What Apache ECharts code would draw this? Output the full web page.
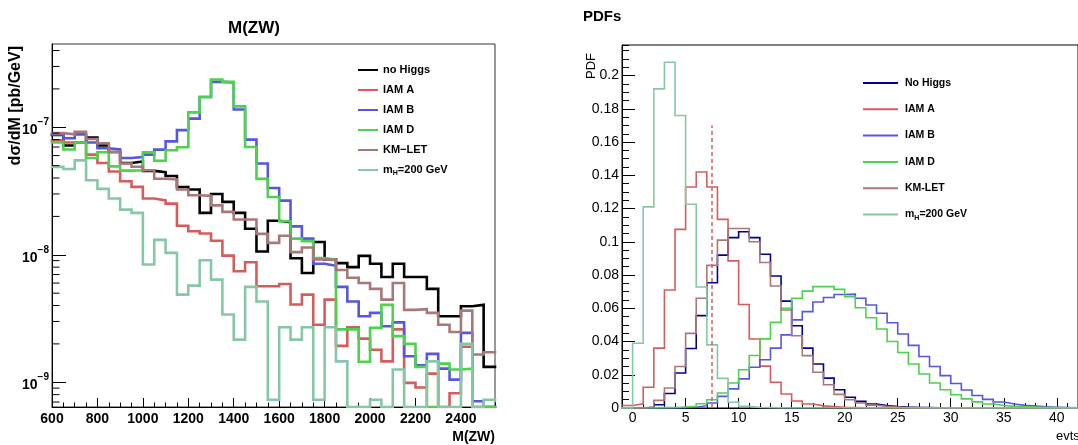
<!DOCTYPE html>
<html><head><meta charset="utf-8">
<script src="https://cdn.jsdelivr.net/npm/echarts@6/dist/echarts.min.js"></script>
<style>html,body{margin:0;padding:0;background:#fff;}#c{width:1078px;height:445px;}</style>
</head><body><div id="c"></div>
<script>
// ---------- Left panel: M(ZW), 50 GeV bins starting at 600 GeV ----------
const mzwEdgeStart = 600;
const mzwBinWidth = 50;
const mzwNoHiggs = [8.7e-8, 7.2e-8, 7.6e-8, 8.3e-8, 7.2e-8, 6.4e-8, 5.25e-8, 5.4e-8, 4.55e-8, 4.45e-8, 4.15e-8, 3.4e-8, 3.25e-8, 2.13e-8, 3.0e-8, 2.6e-8, 2.13e-8, 1.6e-8, 1.06e-8, 1.85e-8, 1.8e-8, 9.4e-9, 7.2e-9, 1.26e-8, 9.2e-9, 8.6e-9, 8.0e-9, 9.8e-9, 8.5e-9, 6.7e-9, 8.5e-9, 6.7e-9, 6.7e-9, 5.4e-9, 3.3e-9, 3.3e-9, 3.95e-9, 4.05e-9, 1.32e-9];
const mzwIamA = [7.9e-8, 7.6e-8, 7.6e-8, 6.1e-8, 5.25e-8, 4.5e-8, 3.77e-8, 3.41e-8, 2.76e-8, 2.67e-8, 2.52e-8, 1.69e-8, 1.53e-8, 1.47e-8, 1.29e-8, 9.85e-9, 7.43e-9, 8.73e-9, 5.66e-9, 5.66e-9, 5.9e-9, 4.07e-9, 4.87e-9, 2.83e-9, 4.45e-9, 1.93e-9, 2.7e-9, 2.2e-9, 1.8e-9, 1.46e-9, 2.6e-9, 9.9e-10, 9.1e-10, 1.17e-9, 6.4e-10, 8.2e-10, 1.9e-9, 6.4e-10, 6.4e-10];
const mzwIamB = [8.8e-8, 8.2e-8, 8.8e-8, 7.6e-8, 6.85e-8, 6.7e-8, 5.75e-8, 5.85e-8, 6.1e-8, 6.68e-8, 7.76e-8, 9.5e-8, 1.17e-7, 1.73e-7, 2.27e-7, 2.25e-7, 1.38e-7, 8.0e-8, 5.2e-8, 3.34e-8, 2.66e-8, 1.67e-8, 1.34e-8, 8.5e-9, 8.2e-9, 5.6e-9, 4.3e-9, 3.3e-9, 3.5e-9, 2.75e-9, 2.95e-9, 1.6e-9, 1.36e-9, 1.67e-9, 1.28e-9, 1.05e-9, 2.44e-9, 7.1e-10, 6.4e-10];
const mzwIamD = [7.6e-8, 6.7e-8, 7.6e-8, 5.75e-8, 6.37e-8, 4.94e-8, 4.57e-8, 4.6e-8, 6.37e-8, 5.47e-8, 6.6e-8, 6.97e-8, 1.31e-7, 1.73e-7, 2.37e-7, 2.27e-7, 1.46e-7, 7.0e-8, 3.94e-8, 2.84e-8, 1.83e-8, 1.34e-8, 1.28e-8, 9.44e-9, 9.16e-9, 2.6e-9, 2.6e-9, 1.45e-9, 2.67e-9, 4.05e-9, 2.3e-9, 2.0e-9, 1.32e-9, 6.4e-10, 1.4e-9, 1.26e-9, 1.28e-9, 6.4e-10, 6.4e-10];
const mzwKmLet = [9.0e-8, 8.8e-8, 9.2e-8, 8.1e-8, 7.5e-8, 6.4e-8, 5.2e-8, 4.9e-8, 4.6e-8, 3.95e-8, 3.9e-8, 3.25e-8, 2.93e-8, 2.9e-8, 2.44e-8, 2.17e-8, 1.89e-8, 1.89e-8, 1.46e-8, 1.24e-8, 1.41e-8, 1.05e-8, 1.14e-8, 9.2e-9, 9.1e-9, 7.6e-9, 6.6e-9, 6.0e-9, 5.4e-9, 4.45e-9, 6.0e-9, 3.7e-9, 3.75e-9, 3.5e-9, 2.83e-9, 2.48e-9, 3.65e-9, 1.65e-9, 1.72e-9];
const mzwMh200 = [4.89e-8, 4.71e-8, 5.5e-8, 3.84e-8, 3.29e-8, 2.76e-8, 2.26e-8, 2.13e-8, 8.38e-9, 1.31e-8, 1.035e-8, 4.87e-9, 5.73e-9, 9.05e-9, 6.38e-9, 3.4e-9, 2.16e-9, 5.6e-9, 4.3e-9, 7.3e-10, 2.7e-9, 2.16e-9, 2.7e-9, 7.3e-10, 2.7e-9, 1.46e-9, 6.4e-10, 6.4e-10, 7.3e-10, 6.4e-10, 1.26e-9, 6.4e-10, 6.4e-10, 1.46e-9, 6.4e-10, 6.4e-10, 2.0e-9, 6.4e-10, 7.3e-10];
const mzwAxisMin = 600, mzwAxisMax = 2550, mzwTickStep = 200, mzwMinorStep = 50;
const xsecAxisMin = 6.4e-10, xsecAxisMax = 4.5e-7;
const leftLegendNames = ['no Higgs', 'IAM A', 'IAM B', 'IAM D', 'KM\u2212LET', 'mH=200 GeV'];

// ---------- Right panel: PDFs, unit bins starting at -1 ----------
const evtsEdgeStart = -1;
const evtsBinWidth = 1;
const pdfNoHiggs = [0, 0, 0.0004, 0.002, 0.0087, 0.0211, 0.0358, 0.0556, 0.0754, 0.092, 0.1025, 0.106, 0.1025, 0.0925, 0.0794, 0.0643, 0.0495, 0.036, 0.0265, 0.018, 0.011, 0.0065, 0.004, 0.0024, 0.0015, 0.0009, 0.0005, 0.0003, 0.0002, 0.0001, 0, 0, 0, 0, 0, 0, 0, 0, 0, 0, 0, 0, 0];
const pdfIamA = [0.0015, 0.0025, 0.0125, 0.036, 0.071, 0.1075, 0.133, 0.142, 0.133, 0.1135, 0.0885, 0.0623, 0.0415, 0.0252, 0.0155, 0.0084, 0.0042, 0.0024, 0.0013, 0.0008, 0.0004, 0.0002, 0.0001, 0, 0, 0, 0, 0, 0, 0, 0, 0, 0, 0, 0, 0, 0, 0, 0, 0, 0, 0, 0];
const pdfIamB = [0, 0, 0, 0, 0.0001, 0.0002, 0.0005, 0.0014, 0.003, 0.007, 0.0115, 0.0175, 0.0245, 0.029, 0.036, 0.044, 0.053, 0.058, 0.0638, 0.0665, 0.0683, 0.0685, 0.066, 0.062, 0.057, 0.0513, 0.0445, 0.0377, 0.031, 0.025, 0.0195, 0.0147, 0.0108, 0.0075, 0.0052, 0.0036, 0.0024, 0.0016, 0.0011, 0.0007, 0.0004, 0.0002, 0.0001];
const pdfIamD = [0, 0.0001, 0.0001, 0.0002, 0.0003, 0.0006, 0.001, 0.0026, 0.005, 0.009, 0.015, 0.023, 0.0316, 0.0416, 0.0515, 0.060, 0.066, 0.0703, 0.073, 0.073, 0.0714, 0.067, 0.0603, 0.0543, 0.0475, 0.040, 0.0334, 0.0265, 0.0205, 0.015, 0.011, 0.008, 0.0055, 0.0037, 0.0024, 0.0015, 0.001, 0.0007, 0.0005, 0.0003, 0.0002, 0.0001, 0.0001];
const pdfKmLet = [0, 0, 0.0004, 0.0046, 0.012, 0.025, 0.0449, 0.066, 0.0858, 0.101, 0.108, 0.108, 0.100, 0.0875, 0.0734, 0.059, 0.0435, 0.0315, 0.0215, 0.014, 0.0082, 0.005, 0.003, 0.0017, 0.001, 0.0006, 0.0003, 0.0002, 0.0001, 0, 0, 0, 0, 0, 0, 0, 0, 0, 0, 0, 0, 0, 0];
const pdfMh200 = [0, 0.039, 0.121, 0.192, 0.208, 0.176, 0.1226, 0.0728, 0.038, 0.0178, 0.0035, 0.001, 0.0004, 0.0002, 0.0001, 0, 0, 0, 0, 0, 0, 0, 0, 0, 0, 0, 0, 0, 0, 0, 0, 0, 0, 0, 0, 0, 0, 0, 0, 0, 0, 0, 0];
const evtsAxisMin = -1, evtsAxisMax = 42;
const pdfAxisMin = 0, pdfAxisMax = 0.2184, pdfTickStep = 0.02, pdfMinorStep = 0.005;
const cutEvts = 7.5, cutTop = 0.17;
const rightLegendNames = ['No Higgs', 'IAM A', 'IAM B', 'IAM D', 'KM-LET', 'mH=200 GeV'];

// ---------- helpers ----------
const FONT = '"Liberation Sans", Arial, Helvetica, sans-serif';
function stepData(start, width, vals) {
  const pts = vals.map((v, i) => [start + i * width, v]);
  pts.push([start + vals.length * width, vals[vals.length - 1]]);
  return pts;
}
const logMinorTicks = [];
for (let e = -10; e <= -7; e++) {
  for (let m = 2; m <= 9; m++) {
    const v = m * Math.pow(10, e);
    if (v > xsecAxisMin && v < xsecAxisMax) logMinorTicks.push(v);
  }
}

const C = {
  black: '#000000', red: '#d65c5c', blue: '#5656e2', green: '#4cd24c',
  brown: '#a87878', teal: '#86c8a6', navy: '#00008c'
};

function hist(name, color, width, xi, yi, start, bw, vals, extra) {
  return Object.assign({
    name, type: 'line', step: 'end', symbol: 'none', showSymbol: false,
    xAxisIndex: xi, yAxisIndex: yi, clip: true, animation: false,
    lineStyle: { color, width, cap: 'square', join: 'miter' }, itemStyle: { color },
    data: stepData(start, bw, vals)
  }, extra || {});
}

const legendRich = (fs) => ({
  n: { fontFamily: FONT, fontWeight: 'bold', fontSize: fs, color: '#000', lineHeight: 14, verticalAlign: 'middle' },
  h: { fontFamily: FONT, fontWeight: 'bold', fontSize: Math.round(fs * 0.65), color: '#000', lineHeight: 8, verticalAlign: 'bottom' }
});
const legendFmt = (name) => name === 'mH=200 GeV' ? '{n|m}{h|H}{n|=200 GeV}' : '{n|' + name + '}';

const chart = echarts.init(document.getElementById('c'), null, { renderer: 'canvas' });
const option = {
  animation: false,
  backgroundColor: '#fff',
  grid: [
    { left: 52, top: 44, width: 443, height: 363, show: true, borderColor: '#333', borderWidth: 1, containLabel: false },
    { left: 622, top: 45, width: 458, height: 363, show: true, borderColor: '#000', borderWidth: 1, containLabel: false }
  ],
  xAxis: [
    { type: 'value', gridIndex: 0, position: 'bottom', min: mzwAxisMin, max: mzwAxisMax, interval: mzwTickStep,
      axisLine: { show: true, onZero: false, lineStyle: { color: '#000', width: 1 } },
      axisTick: { show: true, inside: true, length: 9, lineStyle: { color: '#000' } },
      splitLine: { show: false },
      axisLabel: { show: true, showMaxLabel: false, margin: 5, formatter: (v) => String(v),
        fontFamily: FONT, fontWeight: 'bold', fontSize: 14, color: '#000' } },
    { type: 'value', gridIndex: 1, position: 'bottom', min: evtsAxisMin, max: evtsAxisMax, splitNumber: 9,
      axisLine: { show: true, onZero: false, lineStyle: { color: '#000', width: 1 } },
      axisTick: { show: true, inside: true, length: 10, lineStyle: { color: '#000' } },
      splitLine: { show: false },
      axisLabel: { show: true, showMinLabel: false, showMaxLabel: false, margin: 3, fontFamily: FONT, fontSize: 14, color: '#000' } },
    { type: 'value', gridIndex: 0, position: 'bottom', min: mzwAxisMin, max: mzwAxisMax, interval: mzwMinorStep,
      axisLine: { show: false, onZero: false }, axisLabel: { show: false }, splitLine: { show: false },
      axisTick: { show: true, inside: true, length: 4.5, lineStyle: { color: '#000' } } },
    { type: 'value', gridIndex: 1, position: 'bottom', min: evtsAxisMin, max: evtsAxisMax, interval: evtsBinWidth,
      axisLine: { show: false, onZero: false }, axisLabel: { show: false }, splitLine: { show: false },
      axisTick: { show: true, inside: true, length: 5, lineStyle: { color: '#000' } } }
  ],
  yAxis: [
    { type: 'log', logBase: 10, gridIndex: 0, position: 'left', min: xsecAxisMin, max: xsecAxisMax,
      axisLine: { show: true, onZero: false, lineStyle: { color: '#000', width: 1 } },
      axisTick: { show: true, inside: true, length: 14, lineStyle: { color: '#000' } },
      splitLine: { show: false },
      axisLabel: { show: true, showMinLabel: false, showMaxLabel: false, margin: 3,
        formatter: (v) => '{b|10}{s|\u2212' + Math.abs(Math.round(Math.log10(v))) + '}',
        rich: {
          b: { fontFamily: FONT, fontWeight: 'bold', fontSize: 14, color: '#000', lineHeight: 20, verticalAlign: 'bottom' },
          s: { fontFamily: FONT, fontWeight: 'bold', fontSize: 10, color: '#000', lineHeight: 10, verticalAlign: 'top' }
        } } },
    { type: 'value', gridIndex: 1, position: 'left', min: pdfAxisMin, max: pdfAxisMax, interval: pdfTickStep,
      axisLine: { show: true, onZero: false, lineStyle: { color: '#000', width: 1 } },
      axisTick: { show: true, inside: true, length: 13, lineStyle: { color: '#000' } },
      splitLine: { show: false },
      axisLabel: { show: true, showMaxLabel: false, margin: 3, fontFamily: FONT, fontSize: 14, color: '#000' } },
    { type: 'value', gridIndex: 1, position: 'left', min: pdfAxisMin, max: pdfAxisMax, interval: pdfMinorStep,
      axisLine: { show: false, onZero: false }, axisLabel: { show: false }, splitLine: { show: false },
      axisTick: { show: true, inside: true, length: 7, lineStyle: { color: '#000' } } }
  ],
  legend: [
    { data: leftLegendNames, orient: 'vertical', left: 353, top: 58, itemWidth: 20, itemHeight: 2, itemGap: 6,
      icon: 'rect', selectedMode: false, formatter: legendFmt,
      textStyle: { fontFamily: FONT, fontWeight: 'bold', fontSize: 11, color: '#000', lineHeight: 14, rich: legendRich(11) } },
    { data: rightLegendNames, orient: 'vertical', left: 858, top: 71, itemWidth: 35, itemHeight: 2, itemGap: 12.3,
      icon: 'rect', selectedMode: false, formatter: legendFmt,
      textStyle: { fontFamily: FONT, fontWeight: 'bold', fontSize: 10.5, color: '#000', lineHeight: 14, padding: [0, 0, 0, 2], rich: legendRich(10.5) } }
  ],
  graphic: [
    { type: 'text', x: 254, y: 28, style: { text: 'M(ZW)', font: 'bold 17px ' + FONT, fill: '#000', align: 'center', verticalAlign: 'middle' } },
    { type: 'text', x: 583, y: 17, style: { text: 'PDFs', font: 'bold 15px ' + FONT, fill: '#000', align: 'left', verticalAlign: 'middle' } },
    { type: 'text', x: 16, y: 46, rotation: Math.PI / 2, style: { text: 'd\u03c3/dM [pb/GeV]', font: 'bold 16px ' + FONT, fill: '#000', align: 'right', verticalAlign: 'middle' } },
    { type: 'text', x: 591, y: 53, rotation: Math.PI / 2, style: { text: 'PDF', font: '13px ' + FONT, fill: '#000', align: 'right', verticalAlign: 'middle' } },
    { type: 'text', x: 495, y: 437, style: { text: 'M(ZW)', font: 'bold 14px ' + FONT, fill: '#000', align: 'right', verticalAlign: 'middle' } },
    { type: 'text', x: 1056, y: 436, style: { text: 'evts', font: '13px ' + FONT, fill: '#000', align: 'left', verticalAlign: 'middle' } }
  ],
  series: [
    hist('no Higgs', C.black, 2.6, 0, 0, mzwEdgeStart, mzwBinWidth, mzwNoHiggs),
    hist('IAM A', C.red, 2.6, 0, 0, mzwEdgeStart, mzwBinWidth, mzwIamA),
    hist('IAM B', C.blue, 2.6, 0, 0, mzwEdgeStart, mzwBinWidth, mzwIamB),
    hist('IAM D', C.green, 2.6, 0, 0, mzwEdgeStart, mzwBinWidth, mzwIamD),
    hist('KM\u2212LET', C.brown, 2.6, 0, 0, mzwEdgeStart, mzwBinWidth, mzwKmLet),
    hist('mH=200 GeV', C.teal, 2.6, 0, 0, mzwEdgeStart, mzwBinWidth, mzwMh200),
    { type: 'custom', name: 'logMinorTicks', xAxisIndex: 0, yAxisIndex: 0, silent: true, z: 6, animation: false,
      data: logMinorTicks.map(v => [mzwAxisMin, v]),
      renderItem: (params, api) => {
        const p = api.coord([api.value(0), api.value(1)]);
        return { type: 'line', shape: { x1: p[0], y1: p[1], x2: p[0] + 7.5, y2: p[1] }, style: { stroke: '#000', lineWidth: 1 } };
      } },
    hist('No Higgs', C.navy, 1.6, 1, 1, evtsEdgeStart, evtsBinWidth, pdfNoHiggs),
    hist('IAM A', C.red, 1.6, 1, 1, evtsEdgeStart, evtsBinWidth, pdfIamA, {
      markLine: { silent: true, symbol: 'none', animation: false, label: { show: false },
        lineStyle: { type: [4, 3], color: C.red, width: 1.5 },
        data: [[{ coord: [cutEvts, 0] }, { coord: [cutEvts, cutTop] }]] } }),
    hist('IAM B', C.blue, 1.6, 1, 1, evtsEdgeStart, evtsBinWidth, pdfIamB),
    hist('IAM D', C.green, 1.6, 1, 1, evtsEdgeStart, evtsBinWidth, pdfIamD),
    hist('KM-LET', C.brown, 1.6, 1, 1, evtsEdgeStart, evtsBinWidth, pdfKmLet),
    hist('mH=200 GeV', C.teal, 1.6, 1, 1, evtsEdgeStart, evtsBinWidth, pdfMh200)
  ]
};
chart.setOption(option);
</script></body></html>
